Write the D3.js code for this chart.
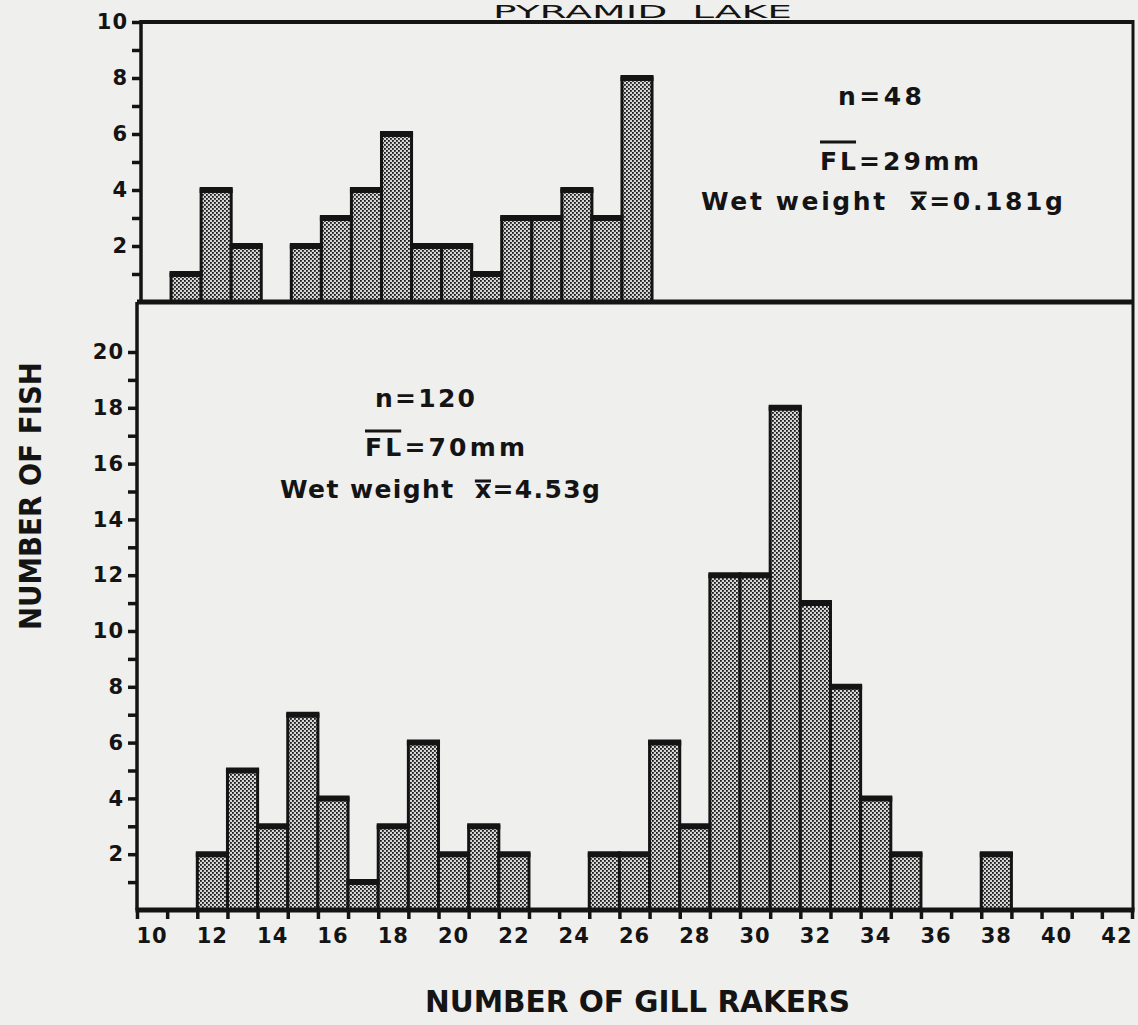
<!DOCTYPE html>
<html>
<head>
<meta charset="utf-8">
<script src="https://cdn.jsdelivr.net/npm/d3@7"></script>
<style>
  html, body { margin: 0; padding: 0; background: #efefed; }
  svg { display: block; }
  text { font-family: "DejaVu Sans", sans-serif; fill: #141414; }
</style>
</head>
<body>
<svg id="chart" width="1138" height="1025"></svg>
<script>
// Gill raker counts, Pyramid Lake (top: small fish, bottom: larger fish)
const topRakers = [11, 12, 13, 14, 15, 16, 17, 18, 19, 20, 21, 22, 23, 24, 25, 26];
const topFish = [1, 4, 2, 0, 2, 3, 4, 6, 2, 2, 1, 3, 3, 4, 3, 8];

const bottomRakers = [12, 13, 14, 15, 16, 17, 18, 19, 20, 21, 22, 23, 24, 25,
  26, 27, 28, 29, 30, 31, 32, 33, 34, 35, 36, 37, 38];
const bottomFish = [2, 5, 3, 7, 4, 1, 3, 6, 2, 3, 2, 0, 0, 2,
  2, 6, 3, 12, 12, 18, 11, 8, 4, 2, 0, 0, 2];

const xTicks = [10, 11, 12, 13, 14, 15, 16, 17, 18, 19, 20, 21, 22, 23, 24, 25, 26,
  27, 28, 29, 30, 31, 32, 33, 34, 35, 36, 37, 38, 39, 40, 41, 42, 43];
const xTickLabels = [10, 12, 14, 16, 18, 20, 22, 24, 26, 28, 30, 32, 34, 36, 38, 40, 42];

const topYTicks = [1, 2, 3, 4, 5, 6, 7, 8, 9, 10];
const topYLabels = [2, 4, 6, 8, 10];
const bottomYTicks = [1, 2, 3, 4, 5, 6, 7, 8, 9, 10, 11, 12, 13, 14, 15, 16, 17, 18, 19, 20];
const bottomYLabels = [2, 4, 6, 8, 10, 12, 14, 16, 18, 20];

// second space is a no-break space so it is not collapsed
const topNotes = ["n=48", "FL=29mm", "Wet weight \u00a0x=0.181g"];
const bottomNotes = ["n=120", "FL=70mm", "Wet weight \u00a0x=4.53g"];

(function () {
  const ink = "#141414";
  const svg = d3.select("#chart");

  const xTop = d3.scaleLinear().domain([10, 43]).range([141, 1133]);
  const xBot = d3.scaleLinear().domain([10, 43]).range([137, 1132]);
  const yTop = d3.scaleLinear().domain([0, 10]).range([302, 22]);
  const yBot = d3.scaleLinear().domain([0, 20]).range([910, 352]);

  // halftone fill
  const pat = svg.append("defs").append("pattern")
    .attr("id", "stipple")
    .attr("width", 4).attr("height", 4)
    .attr("patternUnits", "userSpaceOnUse");
  pat.append("rect").attr("width", 4).attr("height", 4).attr("fill", "#d6d6d6");
  pat.append("rect").attr("x", 0).attr("y", 0).attr("width", 1.8).attr("height", 1.8).attr("fill", "#1a1a1a");
  pat.append("rect").attr("x", 2).attr("y", 2).attr("width", 1.8).attr("height", 1.8).attr("fill", "#1a1a1a");

  function drawBars(x, y, rakers, fish) {
    const bins = rakers
      .map((r, i) => ({ raker: r, fish: fish[i] }))
      .filter(d => d.fish > 0);
    const g = svg.append("g");

    g.selectAll("rect")
      .data(bins)
      .join("rect")
      .attr("x", d => x(d.raker))
      .attr("width", d => x(d.raker + 1) - x(d.raker))
      .attr("y", d => y(d.fish))
      .attr("height", d => y(0) - y(d.fish))
      .attr("fill", "url(#stipple)")
      .attr("stroke", ink)
      .attr("stroke-width", 3);

    // heavy top edge on each bar
    g.selectAll("line")
      .data(bins)
      .join("line")
      .attr("x1", d => x(d.raker) - 1.5)
      .attr("x2", d => x(d.raker + 1) + 1.5)
      .attr("y1", d => y(d.fish))
      .attr("y2", d => y(d.fish))
      .attr("stroke", ink)
      .attr("stroke-width", 6);
  }

  function drawYAxis(x, y, ticks, labels) {
    const g = svg.append("g")
      .attr("transform", `translate(${x.range()[0]},0)`)
      .call(d3.axisLeft(y)
        .tickValues(ticks)
        .tickSize(9)
        .tickPadding(4)
        .tickFormat(d => (labels.includes(d) ? d : "")));
    g.select(".domain").remove();
    g.selectAll(".tick line").attr("stroke", ink).attr("stroke-width", 3.5);
    g.selectAll(".tick text")
      .attr("fill", ink)
      .style("font-family", "DejaVu Sans")
      .style("font-size", "21px")
      .style("font-weight", "bold")
      .style("letter-spacing", "1px");
  }

  function line(x1, y1, x2, y2, w) {
    svg.append("line")
      .attr("x1", x1).attr("y1", y1).attr("x2", x2).attr("y2", y2)
      .attr("stroke", ink).attr("stroke-width", w);
  }

  drawBars(xTop, yTop, topRakers, topFish);
  drawBars(xBot, yBot, bottomRakers, bottomFish);

  // frame
  line(xTop.range()[0], yTop(10), xTop.range()[1], yTop(10), 4);
  line(xTop.range()[0], yTop(10) - 2, xTop.range()[0], yTop(0), 3.5);
  line(xTop.range()[1], yTop(10) - 2, xTop.range()[1], yBot(0), 3);
  line(xBot.range()[0], yTop(0), xTop.range()[1], yTop(0), 5);
  line(xBot.range()[0], yTop(0), xBot.range()[0], yBot(0), 3.5);
  line(xBot.range()[0] - 1.5, yBot(0), xTop.range()[1] + 1.5, yBot(0), 5);

  drawYAxis(xTop, yTop, topYTicks, topYLabels);
  drawYAxis(xBot, yBot, bottomYTicks, bottomYLabels);

  // x axis ticks and bin-centred labels
  const xAxisG = svg.append("g")
    .attr("transform", `translate(0,${yBot(0)})`)
    .call(d3.axisBottom(xBot).tickValues(xTicks).tickSize(9).tickFormat(""));
  xAxisG.select(".domain").remove();
  xAxisG.selectAll(".tick line").attr("stroke", ink).attr("stroke-width", 3.5);

  svg.append("g")
    .selectAll("text")
    .data(xTickLabels)
    .join("text")
    .attr("x", d => xBot(d + 0.5))
    .attr("y", 943)
    .attr("text-anchor", "middle")
    .style("font-size", "21px")
    .style("font-weight", "bold")
    .style("letter-spacing", "1px")
    .text(d => d);

  // annotations: [x, baseline, width]
  function notes(lines, spots, flBar, xBar) {
    const nodes = lines.map((t, i) =>
      svg.append("text")
        .attr("x", spots[i][0])
        .attr("y", spots[i][1])
        .attr("textLength", spots[i][2])
        .attr("lengthAdjust", "spacing")
        .style("font-size", "25px")
        .style("font-weight", "bold")
        .text(t)
        .node());

    const fl = nodes[1];
    line(fl.getStartPositionOfChar(0).x, flBar, fl.getEndPositionOfChar(1).x, flBar, 3);
    const w = nodes[2];
    const xi = lines[2].indexOf("x=");
    line(w.getStartPositionOfChar(xi).x, xBar, w.getEndPositionOfChar(xi).x, xBar, 3);
  }

  notes(topNotes, [[838, 105, 84], [820, 170, 159], [701, 210, 362]], 142, 193);
  notes(bottomNotes, [[375, 407, 100], [365, 456, 160], [280, 498, 320]], 431, 481);

  // titles
  svg.append("text")
    .attr("x", 493)
    .attr("y", 18)
    .attr("textLength", 299)
    .attr("lengthAdjust", "spacingAndGlyphs")
    .style("font-size", "17px")
    .style("white-space", "pre")
    .text("PYRAMID  LAKE");

  svg.append("text")
    .attr("x", 425)
    .attr("y", 1012)
    .attr("textLength", 425)
    .attr("lengthAdjust", "spacingAndGlyphs")
    .style("font-size", "30px")
    .style("font-weight", "bold")
    .text("NUMBER OF GILL RAKERS");

  svg.append("text")
    .attr("transform", "translate(41,496) rotate(-90)")
    .attr("x", -134)
    .attr("textLength", 268)
    .attr("lengthAdjust", "spacingAndGlyphs")
    .style("font-size", "31px")
    .style("font-weight", "bold")
    .text("NUMBER OF FISH");
})();
</script>
</body>
</html>
